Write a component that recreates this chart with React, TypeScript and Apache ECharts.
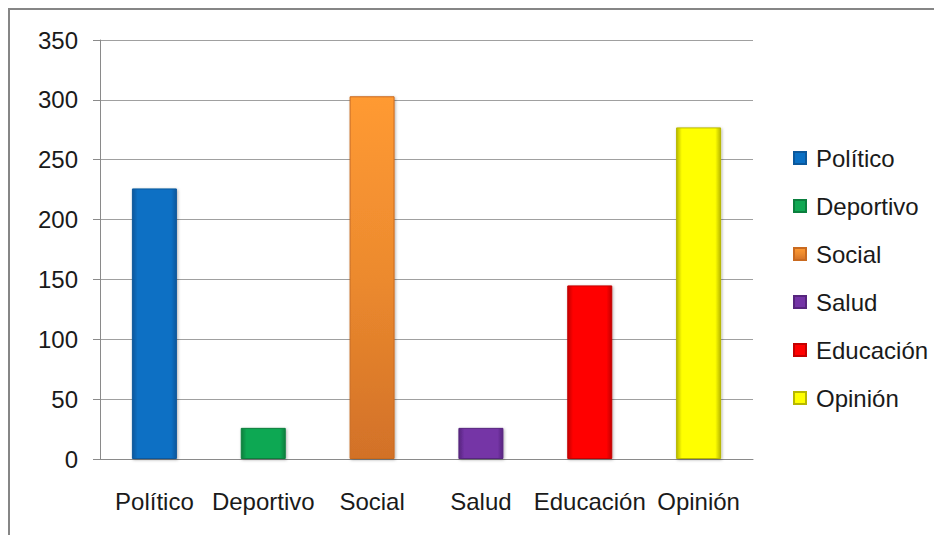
import React, { useEffect, useRef } from "react";
import * as echarts from "echarts";

const categories = ["Político", "Deportivo", "Social", "Salud", "Educación", "Opinión"];
const values = [226, 26, 303, 26, 145, 277];
const baseColors = ["#0a70c4", "#10a853", "#f7922f", "#7434a6", "#ff0000", "#ffff00"];
const edgeColors = ["#0b589c", "#0b7f3e", "#c96a1f", "#57257e", "#c40000", "#b8b800"];
const yTicks = [0, 50, 100, 150, 200, 250, 300, 350];

export default function App() {
  const ref = useRef<HTMLDivElement>(null);
  useEffect(() => {
    if (!ref.current) return;
    const chart = echarts.init(ref.current, null, { renderer: "svg" });
    const font = "Liberation Sans";
    const series = categories.map((name, i) => ({
      name,
      type: "bar",
      stack: "all",
      barWidth: 45,
      data: values.map((v, j) => (j === i ? v : "-")),
      itemStyle: {
        color:
          name === "Social"
            ? new echarts.graphic.LinearGradient(0, 0, 0, 1, [
                { offset: 0, color: "#ff9a33" },
                { offset: 0.5, color: "#ec8a2e" },
                { offset: 1, color: "#d27128" },
              ])
            : new echarts.graphic.LinearGradient(0, 0, 1, 0, [
                { offset: 0, color: edgeColors[i] },
                { offset: 0.12, color: baseColors[i] },
                { offset: 0.88, color: baseColors[i] },
                { offset: 1, color: edgeColors[i] },
              ]),
        borderColor: edgeColors[i],
        borderWidth: 1,
        shadowBlur: 3,
        shadowColor: "rgba(0,0,0,0.3)",
        shadowOffsetX: 1,
        shadowOffsetY: 1,
      },
    }));
    chart.setOption({
      animation: false,
      backgroundColor: "#ffffff",
      graphic: [
        {
          type: "rect",
          shape: { x: 9, y: 9, width: 1000, height: 1000 },
          style: { fill: "none", stroke: "#868686", lineWidth: 2 },
          silent: true,
        },
      ],
      grid: { left: 100, top: 40, right: 181, bottom: 76 },
      legend: {
        orient: "vertical",
        left: 788,
        top: 141,
        itemWidth: 12,
        itemHeight: 12,
        itemGap: 24,
        icon: "rect",
        data: categories,
        textStyle: { fontFamily: font, fontSize: 24, color: "#1a1a1a", lineHeight: 24, padding: [0, 0, 0, 5] },
      },
      xAxis: {
        type: "category",
        data: categories,
        axisLine: { lineStyle: { color: "#8a8a8a", width: 1 } },
        axisTick: { length: 8, lineStyle: { color: "#8a8a8a" }, interval: (i: number) => i !== 1 },
        axisLabel: { fontFamily: font, fontSize: 24, color: "#1a1a1a", margin: 30, interval: 0, hideOverlap: false },
      },
      yAxis: {
        type: "value",
        min: 0,
        max: yTicks[yTicks.length - 1],
        interval: 50,
        axisLine: { show: true, lineStyle: { color: "#8a8a8a", width: 1 } },
        axisTick: { show: true, length: 7, lineStyle: { color: "#8a8a8a" } },
        axisLabel: { fontFamily: font, fontSize: 24, color: "#1a1a1a", margin: 22 },
        splitLine: { lineStyle: { color: "#a0a0a0", width: 1 } },
      },
      series,
    });
    return () => chart.dispose();
  }, []);
  return <div ref={ref} style={{ position: "fixed", left: 0, top: 0, width: 934, height: 535 }} />;
}
